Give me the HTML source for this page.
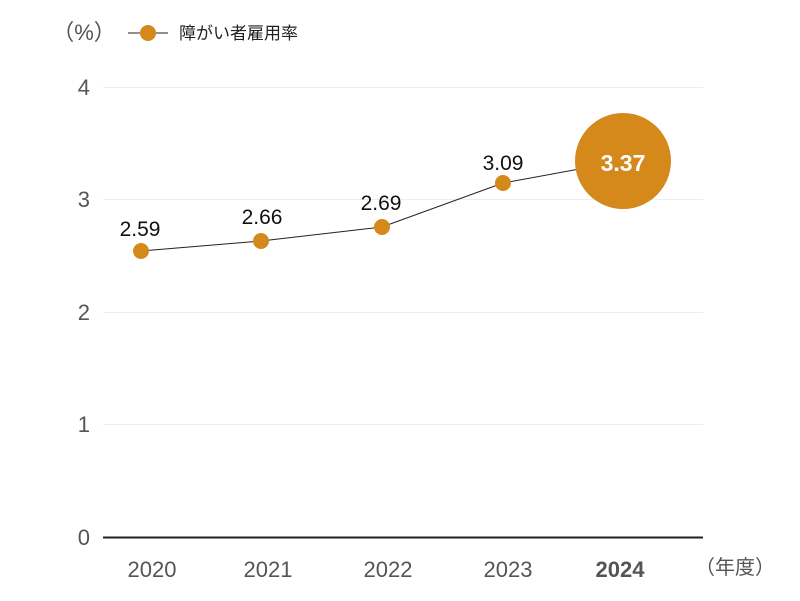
<!DOCTYPE html>
<html><head><meta charset="utf-8"><style>
body{margin:0;background:#fff;}
svg{display:block;font-family:"Liberation Sans","Noto Sans CJK JP",sans-serif;}
</style></head><body>
<svg width="800" height="601" viewBox="0 0 800 601">
<g stroke="#eeeeee" stroke-width="1">
<line x1="103" y1="87.5" x2="703" y2="87.5"/>
<line x1="103" y1="199.5" x2="703" y2="199.5"/>
<line x1="103" y1="312.5" x2="703" y2="312.5"/>
<line x1="103" y1="424.5" x2="703" y2="424.5"/>
</g>
<line x1="103" y1="537.5" x2="703" y2="537.5" stroke="#222" stroke-width="2"/>
<g fill="#555" font-size="22" text-anchor="end">
<text x="90" y="95">4</text><text x="90" y="207">3</text><text x="90" y="320">2</text><text x="90" y="432">1</text><text x="90" y="545">0</text>
</g>
<g fill="#555" font-size="22" text-anchor="middle">
<text x="152" y="577">2020</text><text x="268" y="577">2021</text><text x="388" y="577">2022</text><text x="508" y="577">2023</text>
<text x="620" y="577" font-weight="bold">2024</text>
<text x="735" y="574" font-size="20">（年度）</text>
</g>
<text x="84" y="40" font-size="22" fill="#555" text-anchor="middle">（%）</text>
<line x1="128" y1="33" x2="168" y2="33" stroke="#222" stroke-width="1"/>
<circle cx="148" cy="33" r="8" fill="#d4891a"/>
<text x="179" y="39" font-size="17" fill="#222">障がい者雇用率</text>
<polyline points="141,251 261,241 382,227 503,183 623,161" fill="none" stroke="#222" stroke-width="1"/>
<g fill="#d4891a">
<circle cx="141" cy="251" r="8"/><circle cx="261" cy="241" r="8"/><circle cx="382" cy="227" r="8"/><circle cx="503" cy="183" r="8"/>
<circle cx="623" cy="161" r="48"/>
</g>
<g fill="#111" font-size="21" text-anchor="middle">
<text x="140" y="236">2.59</text><text x="262" y="224">2.66</text><text x="381" y="210">2.69</text><text x="503" y="170">3.09</text>
</g>
<text x="623" y="171" font-size="23" font-weight="bold" fill="#fff" text-anchor="middle">3.37</text>
</svg>
</body></html>
